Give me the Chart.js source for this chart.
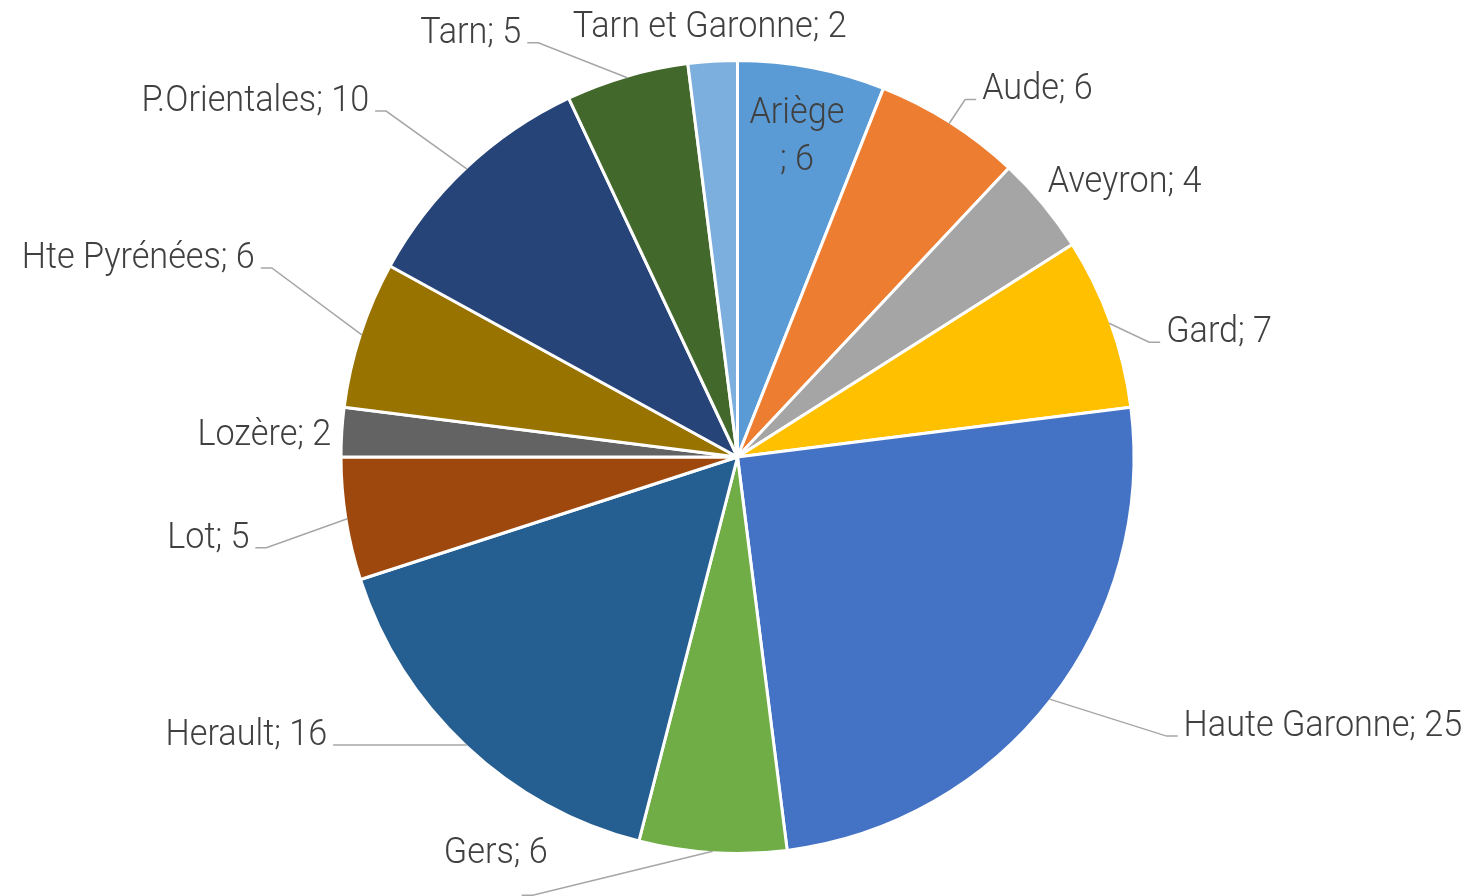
<!DOCTYPE html>
<html>
<head>
<meta charset="utf-8">
<script src="https://cdn.jsdelivr.net/npm/chart.js@4/dist/chart.umd.min.js"></script>
<style>
  html, body { margin: 0; padding: 0; background: #fff; }
  #wrap { width: 1475px; height: 896px; }
</style>
</head>
<body>
<div id="wrap"><canvas id="pie" width="1475" height="896"></canvas></div>
<script>
// slice data, clockwise from 12 o'clock
const departements = ['Ariège', 'Aude', 'Aveyron', 'Gard', 'Haute Garonne', 'Gers', 'Herault',
    'Lot', 'Lozère', 'Hte Pyrénées', 'P.Orientales', 'Tarn', 'Tarn et Garonne'];
const counts = [6, 6, 4, 7, 25, 6, 16, 5, 2, 6, 10, 5, 2];
const sliceColors = ['#5b9bd5', '#ed7d31', '#a5a5a5', '#ffc000', '#4472c4', '#70ad47', '#255e91',
    '#9e480e', '#636363', '#997300', '#264478', '#43682b', '#7cafdd'];

// label placement, offsets from the slice's outer edge at its mid angle
const labelPlacement = [
    { inside: true },
    { dx: 33, dy: -24, align: 'left', leader: true },
    { dx: 6, dy: -13, align: 'left', leader: false },
    { dx: 57, dy: 19, align: 'left', leader: true },
    { dx: 134, dy: 37, align: 'left', leader: true },
    { dx: -165, dy: 12, align: 'right', leader: true, lx: -191, ly: 44 },
    { dx: -140, dy: 0, align: 'right', leader: true },
    { dx: -98, dy: 29, align: 'right', leader: true },
    { dx: -12, dy: 13, align: 'right', leader: false },
    { dx: -107, dy: -67, align: 'right', leader: true },
    { dx: -98, dy: -58, align: 'right', leader: true },
    { dx: -106, dy: -35, align: 'right', leader: true },
    { dx: -3, dy: -26, align: 'center', leader: false }
];

// slightly condensed text, closer to the original label font
function drawText(ctx, text, x, y) {
    ctx.save();
    ctx.translate(x, y);
    ctx.scale(0.95, 1);
    ctx.fillText(text, 0, 0);
    ctx.restore();
}

const sliceLabels = {
    id: 'sliceLabels',
    afterDatasetsDraw(chart) {
        const ctx = chart.ctx;
        const arcs = chart.getDatasetMeta(0).data;
        ctx.save();
        ctx.font = '300 36px Roboto';
        ctx.fillStyle = '#404040';
        ctx.strokeStyle = '#a6a6a6';
        ctx.lineWidth = 1.5;
        ctx.textBaseline = 'alphabetic';
        arcs.forEach((arc, i) => {
            const p = labelPlacement[i];
            const mid = (arc.startAngle + arc.endAngle) / 2;
            const text = departements[i] + '; ' + counts[i];
            if (p.inside) {
                const r = arc.outerRadius * 0.8;
                const x = arc.x + Math.cos(mid) * r;
                const y = arc.y + Math.sin(mid) * r;
                ctx.textAlign = 'center';
                drawText(ctx, departements[i], x, y - 22);
                drawText(ctx, '; ' + counts[i], x, y + 25);
                return;
            }
            const ex = arc.x + Math.cos(mid) * (arc.outerRadius - 1.5);
            const ey = arc.y + Math.sin(mid) * (arc.outerRadius - 1.5);
            const tx = ex + p.dx;
            const ty = ey + p.dy;
            ctx.textAlign = p.align;
            drawText(ctx, text, tx, ty);
            if (p.leader) {
                const side = p.align === 'left' ? -1 : 1;
                const endX = p.lx !== undefined ? ex + p.lx : tx + side * 6;
                const endY = p.ly !== undefined ? ey + p.ly : ty;
                ctx.beginPath();
                ctx.moveTo(ex, ey);
                ctx.lineTo(endX + side * 11, endY);
                ctx.lineTo(endX, endY);
                ctx.stroke();
            }
        });
        ctx.restore();
    }
};

new Chart(document.getElementById('pie'), {
    type: 'pie',
    data: {
        labels: departements,
        datasets: [{
            data: counts,
            backgroundColor: sliceColors,
            borderColor: '#ffffff',
            borderWidth: 3
        }]
    },
    options: {
        responsive: false,
        animation: false,
        layout: { padding: { top: 59, bottom: 41, left: 0, right: 0 } },
        plugins: {
            legend: { display: false },
            tooltip: { enabled: false }
        }
    },
    plugins: [sliceLabels]
});
</script>
</body>
</html>
